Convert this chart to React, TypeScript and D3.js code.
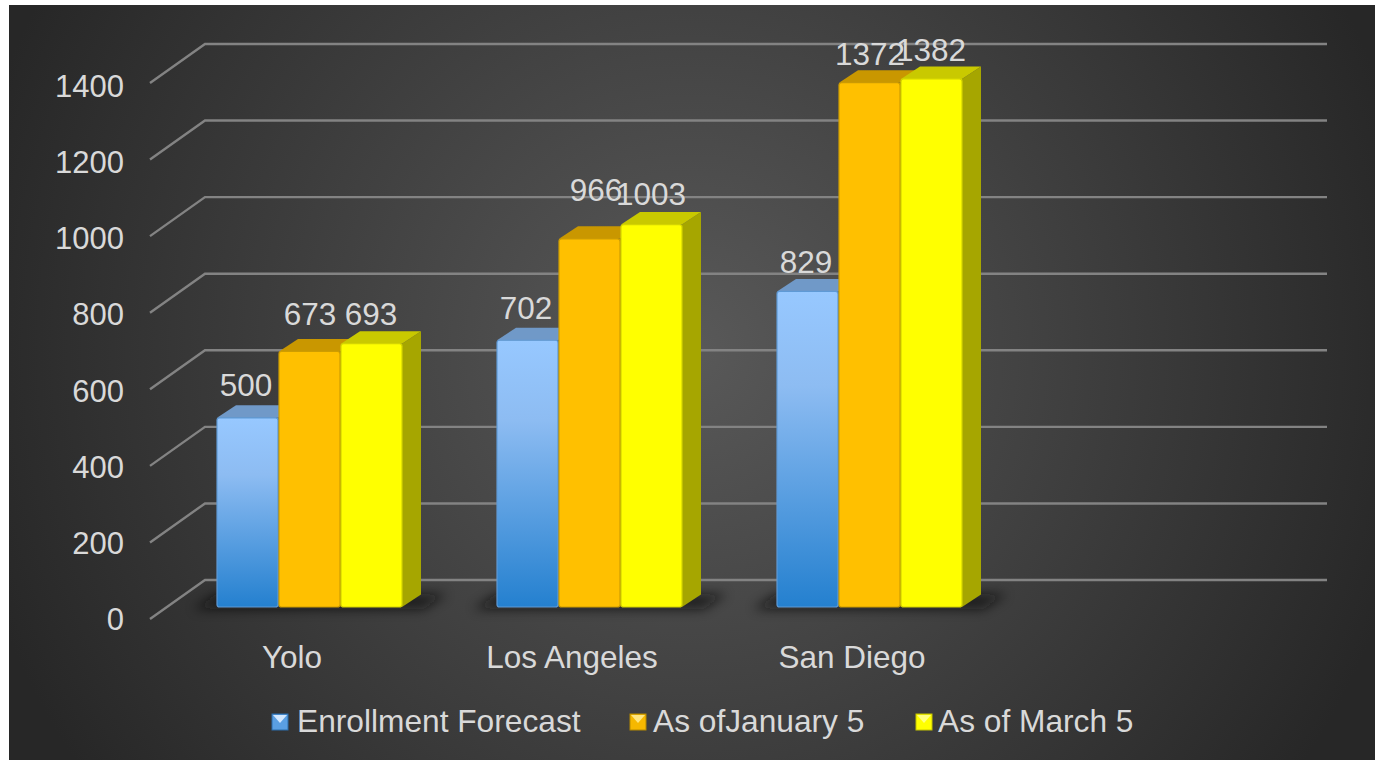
import React from "react";
import * as d3 from "d3";

const categories = ["Yolo", "Los Angeles", "San Diego"];
const seriesNames = ["Enrollment Forecast", "As ofJanuary 5", "As of March 5"];
const forecast = [500, 702, 829];
const january = [673, 966, 1372];
const march = [693, 1003, 1382];
const yTicks = [0, 200, 400, 600, 800, 1000, 1200, 1400];
const seriesValues = [forecast, january, march];

const W = 1375, H = 760;
const font = "'Liberation Sans', Arial, sans-serif";
const txt = "#d9d9d9";

const faces = [
  { top: "#7099c8", side: "#2f6ba5" },
  { top: "#c99700", side: "#a07a00" },
  { top: "#c9c900", side: "#a6a600" },
];

export default function App() {
  const yFront = d3.scaleLinear().domain([0, 1400]).range([610, 72]);
  const yWall = d3.scaleLinear().domain([0, 1400]).range([580, 44]);
  const yLabel = d3.scaleLinear().domain([0, 1400]).range([619, 86]);
  const x0 = d3.scaleBand<string>().domain([...categories, ""]).range([157, 1277]);
  const groupW = x0.bandwidth();
  const x1 = d3.scaleBand<string>().domain(["0", "1", "2"]).range([60, 246]);
  const dx = 19, dy = -12.5;
  const wallX = 205, rightX = 1327, tipX = 150, tipDy = 39;
  const labelShift = [[-2, -22], [1, -26], [-1, -19]];
  const labelNudge: Record<string, [number, number]> = {
    "1-0": [0, 1], "2-0": [0, 4], "0-1": [-1, 0], "1-1": [5, -12], "2-1": [-1, 8], "1-2": [0, -0.5], "2-2": [0, 1],
  };

  const legendX = [272, 630, 916];
  const legendTextX = [297, 653, 938];
  const legendColors = [
    { hi: "#d3e8ff", mid: "#5a9fe2", lo: "#2a6cab" },
    { hi: "#ffe680", mid: "#f6b800", lo: "#b58900" },
    { hi: "#ffff80", mid: "#ffff00", lo: "#c4c400" },
  ];

  return (
    <svg width={W} height={H} style={{ position: "absolute", left: 0, top: 0, background: "#fff" }} fontFamily={font}>
      <defs>
        <radialGradient id="bg" gradientUnits="userSpaceOnUse" cx={690} cy={350} r={740}>
          <stop offset="0" stopColor="#595959" />
          <stop offset="1" stopColor="#272727" />
        </radialGradient>
        <linearGradient id="blueBar" x1="0" y1="0" x2="0" y2="1">
          <stop offset="0" stopColor="#97c8ff" />
          <stop offset="0.3" stopColor="#8dbcf2" />
          <stop offset="1" stopColor="#2480cf" />
        </linearGradient>
        <filter id="blur" x="-20%" y="-100%" width="140%" height="300%">
          <feGaussianBlur stdDeviation="6" />
        </filter>
      </defs>
      <rect x={9} y={5} width={W - 9} height={H - 5} fill="url(#bg)" />

      {yTicks.map((t) => (
        <g key={t}>
          <polyline
            points={`${tipX},${yWall(t) + tipDy} ${wallX},${yWall(t)} ${rightX},${yWall(t)}`}
            fill="none" stroke="#838383" strokeWidth={2.4}
          />
          <text x={124} y={yLabel(t) + 11} textAnchor="end" fontSize={31} fill={txt}>{t}</text>
        </g>
      ))}

      {categories.map((c, ci) => {
        const gx = x0(c)!;
        return (
          <g key={c}>
            <polygon
              points={`${gx + 36},609 ${gx + 266},609 ${gx + 290},594 ${gx + 60},594`}
              fill="#111" opacity={0.7} filter="url(#blur)"
            />
            {seriesValues.map((vals, si) => {
              const v = vals[ci];
              const bx = gx + x1(String(si))!;
              const bw = x1.bandwidth() - 1;
              const yTop = yFront(v);
              const base = 607;
              const fill = si === 0 ? "url(#blueBar)" : si === 1 ? "#ffc000" : "#ffff00";
              return (
                <g key={si}>
                  <polygon
                    points={`${bx + bw},${yTop} ${bx + bw + dx},${yTop + dy} ${bx + bw + dx},${base + dy} ${bx + bw},${base}`}
                    fill={faces[si].side}
                  />
                  <polygon
                    points={`${bx},${yTop} ${bx + dx},${yTop + dy} ${bx + bw + dx},${yTop + dy} ${bx + bw},${yTop}`}
                    fill={faces[si].top}
                  />
                  <rect x={bx} y={yTop} width={bw} height={base - yTop} rx={2.5} fill={fill}
                    stroke={si === 0 ? "#5f9ad6" : si === 1 ? "#cf9d00" : "#d4d400"} strokeWidth={1.2} />
                </g>
              );
            })}
          </g>
        );
      })}

      {categories.map((c, ci) =>
        seriesValues.map((vals, si) => {
          const v = vals[ci];
          const bx = x0(c)! + x1(String(si))!;
          const n = labelNudge[`${ci}-${si}`] ?? [0, 0];
          return (
            <text key={`${c}-${si}`} x={bx + x1.bandwidth() / 2 + labelShift[si][0] + n[0]}
              y={yFront(v) + labelShift[si][1] + n[1]} textAnchor="middle" fontSize={31.5} fill={txt}>{v}</text>
          );
        })
      )}

      {categories.map((c) => (
        <text key={c} x={x0(c)! + groupW / 2 - 5} y={668} textAnchor="middle" fontSize={31.5} fill={txt}>{c}</text>
      ))}

      {seriesNames.map((s, i) => {
        const lx = legendX[i], ly = 714, sz = 16;
        const col = legendColors[i];
        return (
          <g key={s}>
            <rect x={lx} y={ly} width={sz} height={sz} fill={col.mid} stroke={col.lo} strokeWidth={1} />
            <polygon points={`${lx + 1},${ly + 1} ${lx + sz - 1},${ly + 1} ${lx + sz / 2},${ly + sz / 2 + 1}`} fill={col.hi} />
            <text x={legendTextX[i]} y={732} fontSize={31.7} fill={txt}>{s}</text>
          </g>
        );
      })}
    </svg>
  );
}
